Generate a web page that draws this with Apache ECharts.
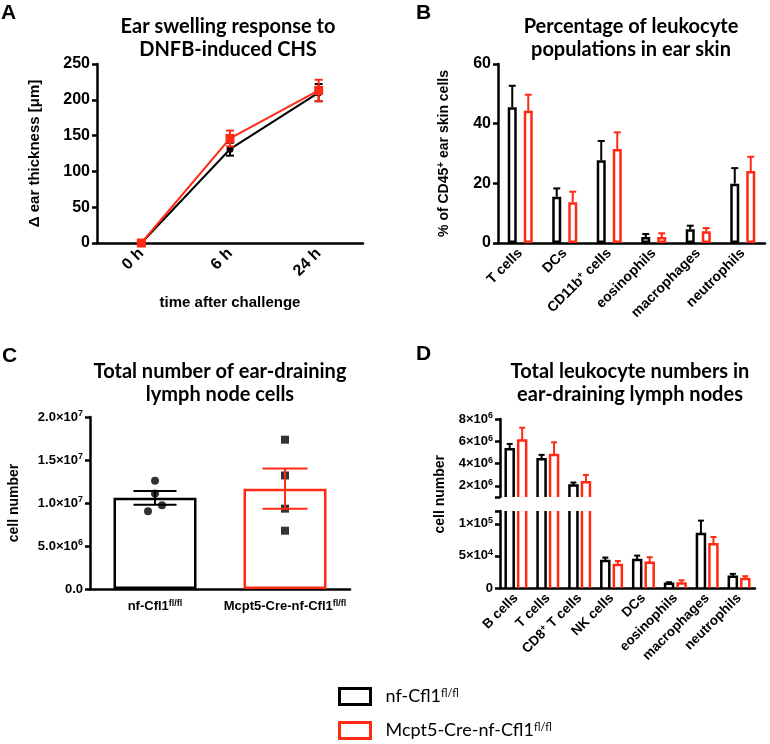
<!DOCTYPE html>
<html><head><meta charset="utf-8">
<script src="https://cdn.jsdelivr.net/npm/echarts@6/dist/echarts.min.js"></script>
<style>html,body{margin:0;padding:0;background:#fff}#c{width:770px;height:744px}</style>
</head><body><div id="c"></div>
<script>
// ---------- DATA ----------
const aCats = ['0 h', '6 h', '24 h'];
const aBlackMean = [0, 131, 210];
const aBlackSem = [2, 9, 12];
const aRedMean = [0, 146, 213];
const aRedSem = [3, 11, 15];

const bCats = ['T cells', 'DCs', 'CD11b{sup|+} cells', 'eosinophils', 'macrophages', 'neutrophils'];
const bBlackMean = [45.5, 15.5, 27.7, 2.0, 4.6, 19.9];
const bBlackSem = [7.2, 2.8, 6.5, 1.0, 1.2, 5.2];
const bRedMean = [44.3, 13.7, 31.5, 2.0, 3.9, 24.1];
const bRedSem = [5.4, 3.5, 5.6, 1.25, 1.1, 4.8];

const cCats = ['nf-Cfl1{sup|fl/fl}', 'Mcpt5-Cre-nf-Cfl1{sup|fl/fl}'];
const cMean = [1.06e7, 1.167e7];
const cSem = [0.08e7, 0.235e7];
const cBlackPoints = [1.26e7, 1.11e7, 0.973e7, 0.903e7];
const cRedPoints = [1.736e7, 1.32e7, 0.934e7, 0.678e7];
const cBlackJitter = [0, 0, 7, -7];
const cRedJitter = [0, 0, 0, 0];

const dCats = ['B cells', 'T cells', 'CD8{sup|+} T cells', 'NK cells', 'DCs', 'eosinophils', 'macrophages', 'neutrophils'];
const dBlackMean = [5.28e6, 4.39e6, 2.03e6, 4.2e4, 4.37e4, 0.68e4, 8.4e4, 1.74e4];
const dBlackSem = [0.48e6, 0.39e6, 0.27e6, 0.54e4, 0.68e4, 0.22e4, 2.1e4, 0.46e4];
const dRedMean = [6.06e6, 4.78e6, 2.33e6, 3.58e4, 3.95e4, 0.7e4, 6.8e4, 1.42e4];
const dRedSem = [1.16e6, 1.13e6, 0.65e6, 0.62e4, 0.85e4, 0.5e4, 1.15e4, 0.42e4];
const dUpperTicks = [2e6, 4e6, 6e6, 8e6];
const dLowerTicks = [0, 5e4, 1e5];

const legendNames = ['nf-Cfl1', 'Mcpt5-Cre-nf-Cfl1'];

// ---------- STYLE ----------
const BLACK = '#000000';
const RED = '#ff2a14';
const AX = 'Liberation Sans, Arial, sans-serif';
const TF = 'Lato, Carlito, sans-serif';
const AXW = 2.5;
function lab(size, supSize) {
  return { color: '#000', fontFamily: AX, fontWeight: 'bold', fontSize: size,
    rich: { sup: { fontSize: supSize, fontWeight: 'bold', fontFamily: AX, verticalAlign: 'top', lineHeight: size + 2, color: '#000' } } };
}

function sciLabel(v, digits) {
  if (v === 0) return digits ? '0.0' : '0';
  const e = Math.floor(Math.log10(v) + 1e-9);
  const m = v / Math.pow(10, e);
  return (digits ? m.toFixed(digits) : String(Math.round(m))) + '×10{sup|' + e + '}';
}

function errRender(offset, cap, color, lw, both) {
  return function (params, api) {
    const x = api.value(0), lo = api.value(1), hi = api.value(2);
    const pLo = api.coord([x, lo]), pHi = api.coord([x, hi]);
    const cx = pLo[0] + offset;
    const st = { stroke: color, lineWidth: lw };
    const ch = [
      { type: 'line', shape: { x1: cx, y1: pLo[1], x2: cx, y2: pHi[1] }, style: st },
      { type: 'line', shape: { x1: cx - cap / 2, y1: pHi[1], x2: cx + cap / 2, y2: pHi[1] }, style: st }
    ];
    if (both) ch.push({ type: 'line', shape: { x1: cx - cap / 2, y1: pLo[1], x2: cx + cap / 2, y2: pLo[1] }, style: st });
    return { type: 'group', children: ch };
  };
}
// open-ended bar outline for the broken axis (clipped to the grid without closing edges)
function brokenBarRender(offset, w, color, lw) {
  return function (params, api) {
    const i = api.value(0), v = api.value(1);
    const cs = params.coordSys;
    const pB = api.coord([i, 0]), pT = api.coord([i, v]);
    const cx = pB[0] + offset, x0 = cx - w / 2, x1 = cx + w / 2;
    const top = cs.y, bot = cs.y + cs.height;
    const yb = Math.min(pB[1], bot), yt = Math.max(pT[1], top);
    if (yt >= yb) return null;
    const st = { stroke: color, lineWidth: lw, fill: null, lineJoin: 'miter' };
    if (pT[1] >= top) {
      return { type: 'polyline', shape: { points: [[x0, yb], [x0, yt], [x1, yt], [x1, yb]] }, style: st };
    }
    return { type: 'group', children: [
      { type: 'line', shape: { x1: x0, y1: yb, x2: x0, y2: yt }, style: st },
      { type: 'line', shape: { x1: x1, y1: yb, x2: x1, y2: yt }, style: st }
    ] };
  };
}
function errData(mean, sem, both, filterFn) {
  const out = [];
  mean.forEach((m, i) => {
    if (filterFn && !filterFn(m)) return;
    out.push([i, both ? m - sem[i] : m, m + sem[i]]);
  });
  return out;
}

function catAxis(gridIndex, cats, labelSize, extra) {
  return Object.assign({
    type: 'category', gridIndex: gridIndex, data: cats, boundaryGap: true,
    axisLine: { lineStyle: { color: '#000', width: AXW } },
    axisTick: { alignWithLabel: true, length: 5, lineStyle: { color: '#000', width: AXW } },
    axisLabel: Object.assign({ rotate: 45, margin: 8, interval: 0 }, lab(labelSize, Math.round(labelSize * 0.65))),
    splitLine: { show: false }
  }, extra || {});
}
function valAxis(gridIndex, labelSize, nameSize, extra) {
  return Object.assign({
    type: 'value', gridIndex: gridIndex,
    axisLine: { show: true, lineStyle: { color: '#000', width: AXW } },
    axisTick: { show: true, length: 5, lineStyle: { color: '#000', width: AXW } },
    axisLabel: Object.assign({ margin: 7 }, lab(labelSize, 9)),
    splitLine: { show: false },
    nameLocation: 'middle',
    nameTextStyle: lab(nameSize, 10)
  }, extra || {});
}
const barStyle = (c) => ({ color: '#fff', borderColor: c, borderWidth: 2.5 });

const titleStyle = { fontFamily: TF, fontWeight: 'bold', fontSize: 20, color: '#000', lineHeight: 23 };
const letterStyle = { fontFamily: AX, fontWeight: 'bold', fontSize: 21, color: '#000' };
const legendText = { fontFamily: TF, fontSize: 18, color: '#000', padding: [0, 0, 0, 10],
  rich: { sup: { fontFamily: TF, fontSize: 11, verticalAlign: 'top', lineHeight: 18, color: '#000' } } };

const option = {
  animation: false,
  backgroundColor: '#fff',
  title: [
    { text: 'A', left: 1, top: 3, padding: 0, textStyle: letterStyle },
    { text: 'B', left: 416, top: 3, padding: 0, textStyle: letterStyle },
    { text: 'C', left: 2, top: 346, padding: 0, textStyle: letterStyle },
    { text: 'D', left: 416, top: 344, padding: 0, textStyle: letterStyle },
    { text: 'Ear swelling response to\nDNFB-induced CHS', left: 228, top: 15, padding: 0, textAlign: 'center', textStyle: titleStyle },
    { text: 'Percentage of leukocyte\npopulations in ear skin', left: 631, top: 15, padding: 0, textAlign: 'center', textStyle: titleStyle },
    { text: 'Total number of ear-draining\nlymph node cells', left: 220, top: 360, padding: 0, textAlign: 'center', textStyle: titleStyle },
    { text: 'Total leukocyte numbers in\near-draining lymph nodes', left: 630, top: 360, padding: 0, textAlign: 'center', textStyle: titleStyle }
  ],
  grid: [
    { left: 97, width: 266, top: 64, height: 179 },
    { left: 498, width: 267, top: 64, height: 179 },
    { left: 90, width: 260, top: 417, height: 172 },
    { left: 500, width: 255, top: 419, height: 78 },
    { left: 500, width: 255, top: 511, height: 77 }
  ],
  xAxis: [
    catAxis(0, aCats, 16, { name: 'time after challenge', nameLocation: 'middle', nameGap: 52, nameTextStyle: lab(15, 10) }),
    catAxis(1, bCats, 14),
    catAxis(2, cCats, 13, { axisLabel: Object.assign({ rotate: 0, margin: 10, interval: 0 }, lab(13, 9)) }),
    catAxis(3, dCats, 13, { show: false }),
    catAxis(4, dCats, 13.5)
  ],
  yAxis: [
    valAxis(0, 16, 15, { min: 0, max: 250, interval: 50, name: 'Δ ear thickness [μm]', nameGap: 55 }),
    valAxis(1, 16, 14, { min: 0, max: 60, interval: 20, name: '% of CD45{sup|+} ear skin cells', nameGap: 46 }),
    valAxis(2, 13, 14, { min: 0, max: 2e7, interval: 5e6, name: 'cell number', nameGap: 69,
      axisLabel: Object.assign({ margin: 7, formatter: (v) => sciLabel(v, 1) }, lab(13, 9)) }),
    valAxis(3, 13, 14, { min: 1e6, max: 8e6,
      axisLabel: Object.assign({ margin: 7, customValues: dUpperTicks, formatter: (v) => sciLabel(v, 0) }, lab(13, 9)),
      axisTick: { show: true, length: 5, customValues: [1e6].concat(dUpperTicks), lineStyle: { color: '#000', width: AXW } } }),
    valAxis(4, 13, 14, { min: 0, max: 1.2e5,
      axisLabel: Object.assign({ margin: 7, customValues: dLowerTicks, formatter: (v) => sciLabel(v, 0) }, lab(13, 9)),
      axisTick: { show: true, length: 5, customValues: dLowerTicks.concat([1.2e5]), lineStyle: { color: '#000', width: AXW } } })
  ],
  legend: [
    { left: 338, top: 687, padding: 0, itemWidth: 31, itemHeight: 16, selectedMode: false,
      data: [{ name: legendNames[0], icon: 'rect', itemStyle: { color: '#fff', borderColor: BLACK, borderWidth: 3 } }],
      formatter: (n) => n + '{sup|fl/fl}', textStyle: legendText },
    { left: 338, top: 721, padding: 0, itemWidth: 31, itemHeight: 16, selectedMode: false,
      data: [{ name: legendNames[1], icon: 'rect', itemStyle: { color: '#fff', borderColor: RED, borderWidth: 3 } }],
      formatter: (n) => n + '{sup|fl/fl}', textStyle: legendText }
  ],
  series: [
    // ---- A ----
    { type: 'line', name: 'A-black', xAxisIndex: 0, yAxisIndex: 0, data: aBlackMean, symbol: 'circle', symbolSize: 7,
      lineStyle: { color: BLACK, width: 2 }, itemStyle: { color: BLACK }, z: 3 },
    { type: 'custom', xAxisIndex: 0, yAxisIndex: 0, renderItem: errRender(0, 8, BLACK, 2, true),
      data: errData(aBlackMean, aBlackSem, true), encode: { x: 0, y: [1, 2] }, z: 3 },
    { type: 'line', name: 'A-red', xAxisIndex: 0, yAxisIndex: 0, data: aRedMean, symbol: 'rect', symbolSize: 9,
      lineStyle: { color: RED, width: 2 }, itemStyle: { color: RED }, z: 5 },
    { type: 'custom', xAxisIndex: 0, yAxisIndex: 0, renderItem: errRender(0, 8, RED, 2, true),
      data: errData(aRedMean, aRedSem, true), encode: { x: 0, y: [1, 2] }, z: 5 },
    // ---- B ----
    { type: 'bar', name: legendNames[0], xAxisIndex: 1, yAxisIndex: 1, data: bBlackMean, barWidth: 9, barGap: '78%', itemStyle: barStyle(BLACK) },
    { type: 'bar', name: legendNames[1], xAxisIndex: 1, yAxisIndex: 1, data: bRedMean, barWidth: 9, barGap: '78%', itemStyle: barStyle(RED) },
    { type: 'custom', xAxisIndex: 1, yAxisIndex: 1, renderItem: errRender(-8, 7, BLACK, 2, false),
      data: errData(bBlackMean, bBlackSem, false), encode: { x: 0, y: [1, 2] }, z: 4 },
    { type: 'custom', xAxisIndex: 1, yAxisIndex: 1, renderItem: errRender(8, 7, RED, 2, false),
      data: errData(bRedMean, bRedSem, false), encode: { x: 0, y: [1, 2] }, z: 4 },
    // ---- C ----
    { type: 'bar', name: 'C-bars', xAxisIndex: 2, yAxisIndex: 2, barWidth: 83,
      data: cMean.map((v, i) => ({ value: v, itemStyle: barStyle(i === 0 ? BLACK : RED) })), itemStyle: barStyle(BLACK) },
    { type: 'scatter', xAxisIndex: 2, yAxisIndex: 2, symbol: 'circle', symbolSize: 8, itemStyle: { color: BLACK }, z: 4,
      data: cBlackPoints.map((v, i) => ({ value: [0, v], symbolOffset: [cBlackJitter[i], 0] })) },
    { type: 'scatter', xAxisIndex: 2, yAxisIndex: 2, symbol: 'rect', symbolSize: 8, itemStyle: { color: BLACK }, z: 4,
      data: cRedPoints.map((v, i) => ({ value: [1, v], symbolOffset: [cRedJitter[i], 0] })) },
    { type: 'custom', xAxisIndex: 2, yAxisIndex: 2, renderItem: errRender(0, 43, BLACK, 2, true),
      data: errData(cMean, cSem, true).filter(d => d[0] === 0), encode: { x: 0, y: [1, 2] }, z: 5 },
    { type: 'custom', xAxisIndex: 2, yAxisIndex: 2, renderItem: errRender(0, 45, RED, 2, true),
      data: errData(cMean, cSem, true).filter(d => d[0] === 1), encode: { x: 0, y: [1, 2] }, z: 5 },
    // ---- D upper & lower (broken axis) ----
    { type: 'custom', xAxisIndex: 3, yAxisIndex: 3, renderItem: brokenBarRender(-6.25, 8, BLACK, 2.5),
      data: dBlackMean.map((v, i) => [i, v]), encode: { x: 0, y: 1 }, z: 3 },
    { type: 'custom', xAxisIndex: 3, yAxisIndex: 3, renderItem: brokenBarRender(6.25, 8, RED, 2.5),
      data: dRedMean.map((v, i) => [i, v]), encode: { x: 0, y: 1 }, z: 3 },
    { type: 'custom', xAxisIndex: 3, yAxisIndex: 3, renderItem: errRender(-6.25, 6, BLACK, 2, false),
      data: errData(dBlackMean, dBlackSem, false, (m) => m > 1.2e5), encode: { x: 0, y: [1, 2] }, z: 4 },
    { type: 'custom', xAxisIndex: 3, yAxisIndex: 3, renderItem: errRender(6.25, 6, RED, 2, false),
      data: errData(dRedMean, dRedSem, false, (m) => m > 1.2e5), encode: { x: 0, y: [1, 2] }, z: 4 },
    { type: 'custom', xAxisIndex: 4, yAxisIndex: 4, renderItem: brokenBarRender(-6.25, 8, BLACK, 2.5),
      data: dBlackMean.map((v, i) => [i, v]), encode: { x: 0, y: 1 }, z: 3 },
    { type: 'custom', xAxisIndex: 4, yAxisIndex: 4, renderItem: brokenBarRender(6.25, 8, RED, 2.5),
      data: dRedMean.map((v, i) => [i, v]), encode: { x: 0, y: 1 }, z: 3 },
    { type: 'custom', xAxisIndex: 4, yAxisIndex: 4, renderItem: errRender(-6.25, 6, BLACK, 2, false),
      data: errData(dBlackMean, dBlackSem, false, (m) => m <= 1.2e5), encode: { x: 0, y: [1, 2] }, z: 4 },
    { type: 'custom', xAxisIndex: 4, yAxisIndex: 4, renderItem: errRender(6.25, 6, RED, 2, false),
      data: errData(dRedMean, dRedSem, false, (m) => m <= 1.2e5), encode: { x: 0, y: [1, 2] }, z: 4 }
  ],
  graphic: [
    { type: 'text', left: 433, top: 455, rotation: Math.PI / 2, originX: 0, originY: 0,
      style: { text: 'cell number', font: 'bold 14px ' + AX, fill: '#000' } }
  ]
};
const chart = echarts.init(document.getElementById('c'), null, { renderer: 'canvas' });
chart.setOption(option);
</script>
</body></html>
